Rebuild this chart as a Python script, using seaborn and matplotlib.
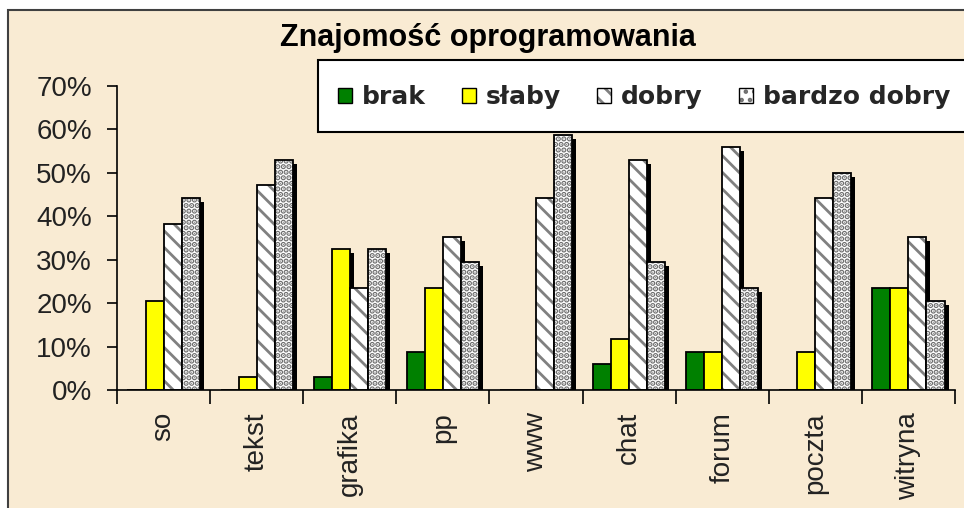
import matplotlib
matplotlib.use("Agg")
import matplotlib.pyplot as plt
from matplotlib.patches import Patch, Rectangle
from matplotlib.colors import to_rgba
from matplotlib.transforms import offset_copy
import seaborn as sns
import pandas as pd

# Data (percent of respondents)
categories = ["so", "tekst", "grafika", "pp", "www", "chat", "forum", "poczta", "witryna"]
levels = ["brak", "słaby", "dobry", "bardzo dobry"]
brak = [0, 0, 2.9, 8.8, 0, 5.9, 8.8, 0, 23.5]
slaby = [20.6, 2.9, 32.4, 23.5, 0, 11.8, 8.8, 8.8, 23.5]
dobry = [38.2, 47.1, 23.5, 35.3, 44.1, 52.9, 55.9, 44.1, 35.3]
bardzo_dobry = [44.1, 52.9, 32.4, 29.4, 58.8, 29.4, 23.5, 50.0, 20.6]
yticks = [0, 10, 20, 30, 40, 50, 60, 70]

colors = {"brak": "#008000", "słaby": "#FFFF00", "dobry": "white", "bardzo dobry": "white"}
hatches = {"brak": "", "słaby": "", "dobry": "\\\\", "bardzo dobry": "..."}
hatch_lw = {"brak": 2.0, "słaby": 2.0, "dobry": 2.0, "bardzo dobry": 2.8}
hatch_col = {"brak": "#808080", "słaby": "#808080", "dobry": "#808080", "bardzo dobry": "#6e6e6e"}

df = pd.DataFrame({
    "kategoria": categories * 4,
    "ocena": [l for l in levels for _ in categories],
    "procent": brak + slaby + dobry + bardzo_dobry,
})


def gray_hatch(p, color, lw=None):
    if hasattr(p, "set_hatchcolor"):
        p.set_hatchcolor(color)
    else:
        p._hatch_color = to_rgba(color)
    if lw is not None and hasattr(p, "set_hatch_linewidth"):
        p.set_hatch_linewidth(lw)


sns.set_style("ticks")
plt.rcParams["font.family"] = ["Liberation Sans", "DejaVu Sans"]
plt.rcParams["hatch.linewidth"] = 2.0

W, H = 964, 508
fig = plt.figure(figsize=(W / 100, H / 100), dpi=100, facecolor="white")

# beige chart area with a dark frame
fig.patches.append(Rectangle((8 / W, -0.1), 1, 1.1 - 10 / H, transform=fig.transFigure,
                             facecolor="#F9EBD3", edgecolor="#404040", lw=1.5, zorder=-5))
# legend box (runs off the right edge like the original)
fig.patches.append(Rectangle((318 / W, 1 - 132 / H), 1, 72 / H, transform=fig.transFigure,
                             facecolor="white", edgecolor="black", lw=1.5, zorder=-4))

ax = fig.add_axes([117 / W, 1 - 390 / H, (955 - 117) / W, (390 - 86) / H])
ax.set_facecolor("none")

sns.barplot(data=df, x="kategoria", y="procent", hue="ocena", hue_order=levels,
            palette=colors, saturation=1, width=0.775, gap=0, edgecolor="black",
            linewidth=1.3, legend=False, ax=ax, zorder=3)

# hatching, plus a solid black drop shadow behind each bar
shadow_tf = offset_copy(ax.transData, fig=fig, x=4, y=-4, units="dots")
for level, cont in zip(levels, ax.containers):
    for bar in cont:
        bar.set_hatch(hatches[level])
        gray_hatch(bar, hatch_col[level], hatch_lw[level])
        if bar.get_height() > 0:
            ax.add_patch(Rectangle(bar.get_xy(), bar.get_width(), bar.get_height(),
                                   transform=shadow_tf, facecolor="black",
                                   edgecolor="none", zorder=2))

ax.set_xlim(-0.5, len(categories) - 0.5)
ax.set_ylim(0, 70)
ax.set_yticks(yticks)
ax.set_yticklabels([f"{t}%" for t in yticks])
ax.set_xticks(range(len(categories)))
ax.set_xticklabels(categories, rotation=90)
ax.set_xticks([i - 0.5 for i in range(len(categories) + 1)], minor=True)
ax.tick_params(axis="x", which="major", length=0, pad=16, labelsize=20, labelcolor="#222222")
ax.tick_params(axis="x", which="minor", length=10, width=1.2, color="black")
ax.tick_params(axis="y", length=7, width=1.2, pad=11, labelsize=20, labelcolor="#222222", color="black")
ax.set_xlabel("")
ax.set_ylabel("")
sns.despine(ax=ax)
for s in ["left", "bottom"]:
    ax.spines[s].set_color("black")
    ax.spines[s].set_linewidth(1.2)
    ax.spines[s].set_zorder(4)

fig.text(488 / W, 1 - 38 / H, "Znajomość oprogramowania", ha="center", va="center",
         fontsize=22, fontweight="bold", color="black")

handles = []
for level in levels:
    p = Patch(facecolor=colors[level], edgecolor="black", hatch=hatches[level][:2])
    gray_hatch(p, hatch_col[level])
    handles.append(p)

leg = fig.legend(handles=handles, labels=levels, ncol=4, loc="center left",
                 bbox_to_anchor=(338 / W, 1 - 97 / H), frameon=False,
                 prop={"family": "DejaVu Sans", "weight": "bold", "size": 18},
                 handlelength=0.56, handleheight=0.56, handletextpad=0.4,
                 columnspacing=1.44, borderaxespad=0, borderpad=0)

fig.savefig("out.png", dpi=100, facecolor=fig.get_facecolor())
